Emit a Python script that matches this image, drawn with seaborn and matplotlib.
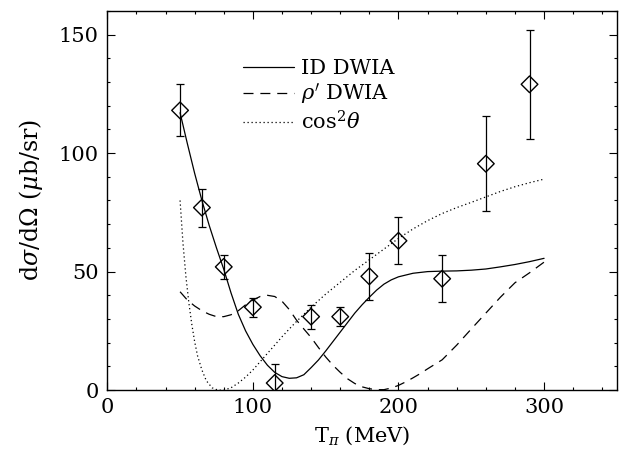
import numpy as np
import pandas as pd
import matplotlib
matplotlib.use("Agg")
import matplotlib.pyplot as plt
import seaborn as sns

# measured points
t_data = [50, 65, 80, 100, 115, 140, 160, 180, 200, 230, 260, 290]
xs_data = [118, 77, 52, 35, 3, 31, 31, 48, 63, 47, 95.5, 129]
xs_err = [11, 8, 5, 4, 8, 5, 4, 10, 10, 10, 20, 23]

# ID DWIA (solid)
t_id = [50, 55, 60, 65, 70, 75, 80, 85, 90, 95, 100, 105, 110, 115, 120, 125, 130,
        135, 140, 145, 150, 155, 160, 165, 170, 175, 180, 185, 190, 195, 200, 210,
        220, 230, 240, 250, 260, 270, 280, 290, 300]
xs_id = [117, 104, 91.5, 80, 69.5, 60, 51, 41, 32, 25, 19.3, 14.5, 10.5, 7.5, 5.7,
         5, 5.2, 6.5, 9.5, 12.7, 16.5, 20.5, 24.5, 28.5, 32.5, 36, 39.2, 42.2, 44.7,
         46.5, 47.8, 49.3, 50, 50.2, 50.3, 50.6, 51.1, 52, 53, 54.2, 55.6]

# rho' DWIA (dashed)
t_rho = [50, 55, 60, 65, 70, 75, 80, 85, 90, 95, 100, 105, 110, 115, 120, 125, 130,
         135, 140, 145, 150, 155, 160, 165, 170, 175, 180, 185, 190, 195, 200, 205,
         210, 215, 220, 230, 240, 250, 260, 270, 280, 290, 300]
xs_rho = [41.5, 38, 35.5, 33.5, 32, 31, 31, 31.8, 33.5, 36, 38, 39.5, 40, 39.5, 37.5,
          34, 29.5, 25.8, 22.2, 18, 14, 10.5, 7.5, 4.8, 2.8, 1.4, 0.6, 0.2, 0.2, 0.9,
          2, 3.5, 5.2, 7, 9, 12.8, 19, 25.8, 32.5, 39.2, 45.3, 49.5, 54]

# cos^2 theta (dotted)
t_cos = [50, 52, 54, 56, 58, 60, 62, 65, 68, 72, 76, 80, 85, 90, 95, 100, 105, 110,
         115, 120, 125, 130, 140, 150, 160, 170, 180, 190, 200, 210, 220, 230, 240,
         250, 260, 270, 280, 290, 300]
xs_cos = [80, 62, 48, 37, 28, 20.5, 14.5, 8.5, 4, 1, 0, 0, 1, 3, 5.5, 8.5, 12, 15.5,
          19, 22.5, 25.8, 29, 35, 40.5, 45.5, 50.5, 55, 59.5, 64, 68, 71.5, 74.5, 77,
          79.2, 81.5, 83.8, 85.8, 87.5, 89]

sns.set_style("ticks", {"xtick.direction": "in", "ytick.direction": "in"})
plt.rcParams["font.family"] = ["DejaVu Serif"]
plt.rcParams["mathtext.fontset"] = "dejavuserif"
for key in ["text.color", "axes.labelcolor", "xtick.color", "ytick.color", "axes.edgecolor"]:
    plt.rcParams[key] = "black"

fig, ax = plt.subplots(figsize=(6.2, 4.5), dpi=100)
fig.subplots_adjust(left=0.173, right=0.995, bottom=0.133, top=0.976)

lw = 0.9
sns.lineplot(x=t_id, y=xs_id, color="black", lw=lw, ax=ax, label="ID DWIA")
sns.lineplot(x=t_rho, y=xs_rho, color="black", lw=lw, ax=ax,
             linestyle=(0, (8, 5.5)), label=r"$\rho'$ DWIA")
sns.lineplot(x=t_cos, y=xs_cos, color="black", lw=lw, ax=ax,
             linestyle=(0, (1, 2.2)), label=r"cos$^2\theta$")

ax.errorbar(t_data, xs_data, yerr=xs_err, fmt="none", ecolor="black",
            elinewidth=0.9, capsize=3, capthick=0.9)
sns.scatterplot(x=t_data, y=xs_data, marker="D", s=72, facecolor="none",
                edgecolor="black", linewidth=1.0, ax=ax, zorder=3)

ax.set_xlim(0, 350)
ax.set_ylim(0, 160)
ax.set_xticks([0, 100, 200, 300])
ax.set_yticks([0, 50, 100, 150])
ax.set_xticks(np.arange(0, 351, 20), minor=True)
ax.set_yticks(np.arange(0, 161, 10), minor=True)
ax.tick_params(which="both", direction="in", top=True, right=True,
               labelsize=15, width=0.8)
ax.tick_params(which="major", length=5.5, pad=6)
ax.tick_params(which="minor", length=2.5)
for sp in ax.spines.values():
    sp.set_linewidth(1.0)

ax.set_xlabel(r"T$_\pi$ (MeV)", fontsize=15, labelpad=5)
ax.set_ylabel(r"d$\sigma$/d$\Omega$ ($\mu$b/sr)", fontsize=17, labelpad=10)

ax.legend(loc="upper left", bbox_to_anchor=(0.267, 0.872), frameon=False,
          fontsize=15, handlelength=2.45, handletextpad=0.3, labelspacing=0.15,
          borderpad=0, borderaxespad=0)

fig.savefig("out.png", dpi=100)
